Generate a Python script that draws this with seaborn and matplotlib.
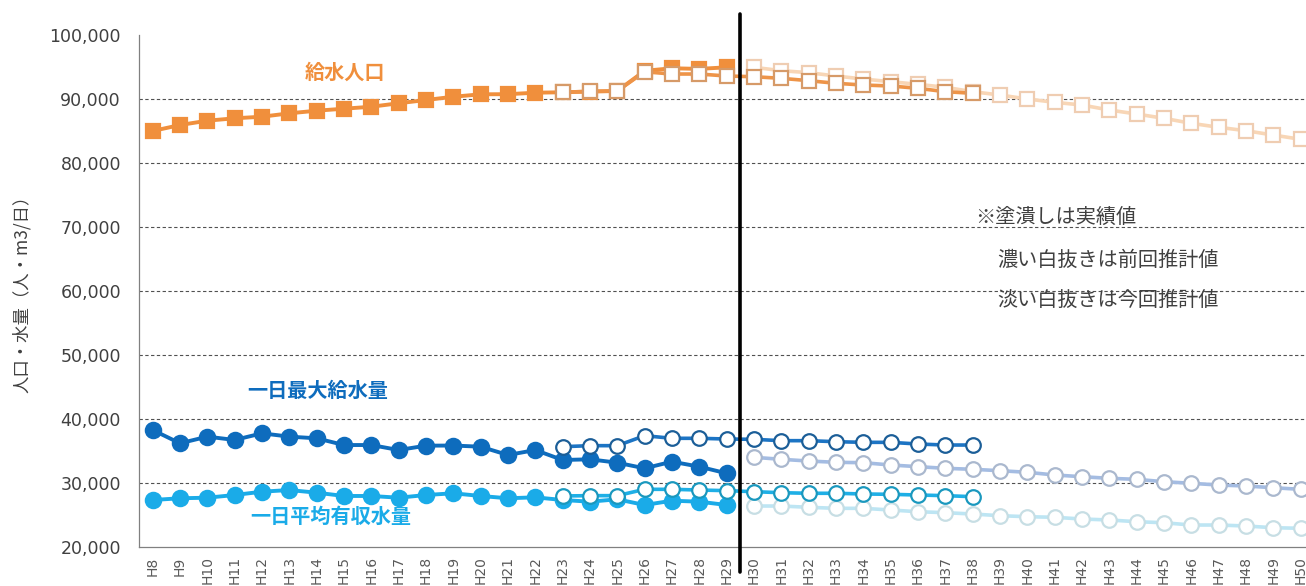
import matplotlib
matplotlib.use("Agg")
import matplotlib.pyplot as plt
import matplotlib.transforms as mtransforms
from matplotlib.ticker import FuncFormatter, FixedLocator
import seaborn as sns

# Fiscal years (Heisei) on the category axis
years = ["H8", "H9", "H10", "H11", "H12", "H13", "H14", "H15", "H16", "H17",
         "H18", "H19", "H20", "H21", "H22", "H23", "H24", "H25", "H26", "H27",
         "H28", "H29", "H30", "H31", "H32", "H33", "H34", "H35", "H36", "H37",
         "H38", "H39", "H40", "H41", "H42", "H43", "H44", "H45", "H46", "H47",
         "H48", "H49", "H50"]

# Served population (persons): actual H8-H29, previous estimate H23-H38, current estimate H30-H50
pop_actual = [85050, 85980, 86660, 87030, 87280, 87810, 88220, 88530, 88840, 89380,
              89890, 90400, 90780, 90800, 91030, 91100, 91200, 91300, 94450, 94850,
              94750, 95000]
pop_prev = [91100, 91250, 91300, 94300, 93950, 93950, 93640, 93530, 93280, 92910,
            92500, 92230, 92080, 91720, 91190, 90940]
pop_curr = [95000, 94470, 94160, 93640, 93170, 92750, 92340, 91880, 91190, 90670,
            90050, 89530, 89110, 88330, 87700, 87030, 86250, 85630, 85090, 84420,
            83750]

# Daily maximum supply (m3/day)
max_actual = [38330, 36250, 37290, 36770, 37810, 37290, 37030, 35980, 35980, 35200,
              35880, 35900, 35720, 34420, 35200, 33640, 33750, 33220, 32340, 33380,
              32600, 31560]
max_prev = [35720, 35880, 35880, 37440, 37030, 37030, 36920, 36870, 36660, 36660,
            36500, 36400, 36400, 36140, 35980, 35980]
max_curr = [34060, 33750, 33480, 33280, 33220, 32860, 32600, 32340, 32190, 31970,
            31720, 31300, 31030, 30780, 30620, 30250, 30000, 29730, 29580, 29310,
            29060]

# Daily average billed water (m3/day)
avg_actual = [27390, 27660, 27750, 28170, 28690, 28950, 28530, 28020, 28020, 27750,
              28170, 28440, 28020, 27660, 27810, 27390, 27130, 27500, 26610, 27280,
              27130, 26610]
avg_prev = [28020, 28070, 28070, 29060, 29060, 28950, 28850, 28690, 28530, 28440,
            28440, 28330, 28280, 28170, 28070, 27910]
avg_curr = [26450, 26450, 26250, 26090, 26090, 25830, 25560, 25410, 25200, 24940,
            24780, 24690, 24420, 24270, 24000, 23840, 23480, 23480, 23330, 23060,
            22970]

y_ticks = [20000, 30000, 40000, 50000, 60000, 70000, 80000, 90000, 100000]

sns.set_style("white")
plt.rcParams["font.family"] = ["Noto Sans CJK JP", "DejaVu Sans"]

W, H = 1306, 586
fig = plt.figure(figsize=(W / 100, H / 100), dpi=100)
ax = fig.add_axes([139 / W, 1 - 547.3 / H, 1175.2 / W, 512 / H])

first_actual = years.index("H8")
first_prev = years.index("H23")
first_curr = years.index("H30")


def draw(values, start, color, marker, face, edge, lw, ms, z):
    xs = list(range(start, start + len(values)))
    sns.lineplot(x=xs, y=values, ax=ax, color=color, linewidth=lw, marker=marker,
                 markersize=ms, markerfacecolor=face, markeredgecolor=edge,
                 markeredgewidth=1.6, zorder=z, sort=False, errorbar=None)


ORANGE = "#F08F3C"
BLUE = "#0E6CBD"
CYAN = "#1AABE8"

# current estimates (faint, open markers) go underneath
draw(pop_curr, first_curr, "#F8D6B6", "s", "white", "#EFCDB2", 2.6, 10.5, 2)
draw(max_curr, first_curr, "#A4BCE2", "o", "white", "#AAB8CE", 2.6, 10.5, 2)
draw(avg_curr, first_curr, "#BDE5F3", "o", "white", "#C7DEE4", 2.6, 10.5, 2)

# actual values (filled markers)
draw(pop_actual, first_actual, ORANGE, "s", ORANGE, ORANGE, 2.8, 10.5, 3)
draw(max_actual, first_actual, BLUE, "o", BLUE, BLUE, 2.8, 11, 3)
draw(avg_actual, first_actual, CYAN, "o", CYAN, CYAN, 2.8, 11, 3)

# previous estimates (dark open markers) on top
draw(pop_prev, first_prev, "#EE9448", "s", "white", "#D69A68", 2.6, 10.5, 4)
draw(max_prev, first_prev, "#1C74C4", "o", "white", "#1B5E98", 2.6, 10.5, 4)
draw(avg_prev, first_prev, "#1EAFE6", "o", "white", "#1A98BE", 2.6, 10.5, 4)

# axes limits and ticks
ax.set_xlim(-0.5, len(years) - 0.5)
ax.set_ylim(y_ticks[0], y_ticks[-1])

ax.set_xticks(range(len(years)))
ax.set_xticklabels(years, rotation=90, fontsize=10, color="#595959",
                   family="DejaVu Sans")
ax.xaxis.set_minor_locator(FixedLocator([i - 0.5 for i in range(len(years) + 1)]))
ax.tick_params(axis="x", which="major", length=0, pad=6.5)
ax.tick_params(axis="x", which="minor", length=5, width=0.8, color="#808080",
               direction="out")

ax.set_yticks(y_ticks)
ax.yaxis.set_major_formatter(FuncFormatter(lambda v, p: f"{int(v):,}"))
ax.tick_params(axis="y", which="major", length=5, width=0.8, color="#808080",
               labelsize=12.5, labelcolor="#404040", pad=8, direction="out")
for lab in ax.get_yticklabels():
    lab.set_family("DejaVu Sans")

for side in ("top", "right"):
    ax.spines[side].set_visible(False)
for side in ("left", "bottom"):
    ax.spines[side].set_color("#808080")
    ax.spines[side].set_linewidth(0.9)

# dashed horizontal gridlines
ax.hlines(y_ticks[1:-1], -0.5, len(years) - 0.5, colors="#505050",
          linestyles=(0, (3, 2.2)), linewidth=0.8, zorder=1)

# divider between actual and forecast years
trans = mtransforms.blended_transform_factory(ax.transData, ax.transAxes)
ax.plot([21.5, 21.5], [-0.048, 1.0416], transform=trans, color="black",
        linewidth=2.6, clip_on=False, zorder=6)

# series labels
ax.text(7.04, 94270, "給水人口", color=ORANGE, fontsize=14.5, fontweight="bold",
        ha="center", va="center")
ax.text(6.05, 44580, "一日最大給水量", color=BLUE, fontsize=14.5, fontweight="bold",
        ha="center", va="center")
ax.text(6.53, 24890, "一日平均有収水量", color=CYAN, fontsize=14.5, fontweight="bold",
        ha="center", va="center", zorder=7)

# notes
ax.text(30.09, 71610, "※塗潰しは実績値", color="#404040", fontsize=14.5,
        ha="left", va="center")
ax.text(30.9, 64890, "濃い白抜きは前回推計値", color="#404040", fontsize=14.5,
        ha="left", va="center")
ax.text(30.9, 58640, "淡い白抜きは今回推計値", color="#404040", fontsize=14.5,
        ha="left", va="center")

fig.text(22 / W, 1 - 290 / H, "人口・水量（人・m3/日）", rotation=90,
         ha="center", va="center", fontsize=12.5, color="#404040")

fig.savefig("out.png", dpi=100)
